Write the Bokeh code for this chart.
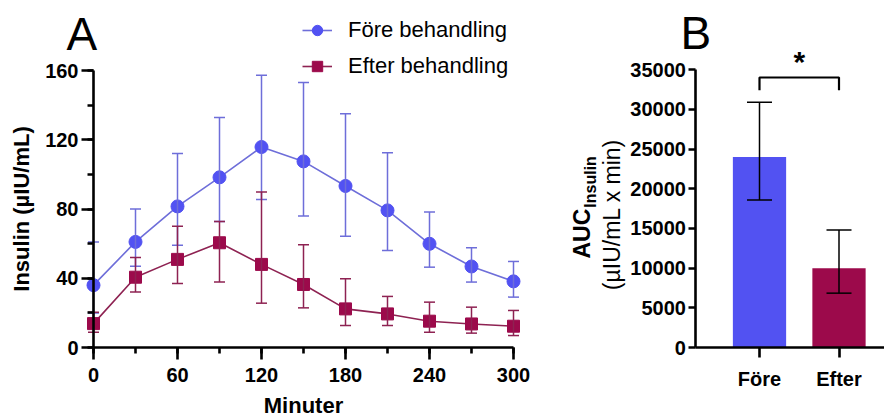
import math
from bokeh.plotting import figure
from bokeh.layouts import row
from bokeh.models import (Range1d, ColumnDataSource, Whisker, TeeHead, Label, Legend,
                          SingleIntervalTicker, FixedTicker, NumeralTickFormatter)
from bokeh.embed import file_html
from bokeh.resources import INLINE

# ---------------- data ----------------
minutes = [0, 30, 60, 90, 120, 150, 180, 210, 240, 270, 300]
fore_mean = [36, 61, 81.5, 98.3, 115.8, 107.5, 93.3, 79.2, 59.9, 46.8, 38.2]
fore_upper = [61, 80, 112, 132.8, 157.2, 153, 135, 112.5, 78.2, 57.6, 49.7]
fore_lower = [20, 47, 59, 72.8, 85.5, 75.9, 64.3, 56, 46.4, 37.8, 29.1]
efter_mean = [13.8, 40.6, 50.9, 60.5, 48, 36.4, 22.3, 19.4, 15.2, 13.6, 12.3]
efter_upper = [20.4, 52, 70, 72.8, 89.8, 59.3, 39.7, 29.5, 26.2, 23.3, 21.4]
efter_lower = [8.8, 32, 37, 37.8, 25.6, 22.9, 12.7, 12.7, 8.8, 8.3, 6.9]

auc_groups = ["Före", "Efter"]
auc_mean = [24000, 10000]
auc_upper = [30900, 14800]
auc_lower = [18600, 6850]
sig_y = 34030
sig_drop = 1600
sig_star_y = 36000

BLUE = "#5252F2"
BLUE_LINE = "#6E6ED9"
RED = "#9C0A4B"
RED_LINE = "#8E2252"
FONT = "Liberation Sans"

H = 419
ZERO_PX = 347  # canvas px row of the value-0 line

def style_axes(p):
    for ax in (p.xaxis[0], p.yaxis[0]):
        ax.axis_line_width = 2.6
        ax.axis_line_color = "black"
        ax.major_tick_line_width = 2.6
        ax.minor_tick_line_width = 2.6
        ax.major_tick_in = 0
        ax.minor_tick_in = 0
        ax.major_label_text_font = FONT
        ax.major_label_text_font_style = "bold"
        ax.major_label_text_font_size = "20px"
        ax.major_label_text_color = "black"
        ax.axis_label_text_font = FONT
        ax.axis_label_text_font_style = "bold"
        ax.axis_label_text_font_size = "22px"
        ax.axis_label_text_color = "black"
    p.xgrid.visible = False
    p.ygrid.visible = False
    p.outline_line_color = None

def scr_y(px):
    """canvas row -> screen-unit y measured from the frame bottom"""
    return H - px

# ---------------- panel A ----------------
WA = 552
ax0_px, ax_scale = 93.0, 1.4          # px of minute 0, px per minute
ay_scale = 277.0 / 160.0              # px per insulin unit
pA = figure(width=WA, height=H,
            x_range=Range1d(-ax0_px / ax_scale, (WA - ax0_px) / ax_scale),
            y_range=Range1d(-(H - ZERO_PX) / ay_scale, ZERO_PX / ay_scale),
            output_backend="svg", toolbar_location=None,
            min_border_left=0, min_border_right=0, min_border_top=0, min_border_bottom=0)
style_axes(pA)
pA.xaxis.ticker = SingleIntervalTicker(interval=60, num_minor_ticks=2)
pA.yaxis.ticker = SingleIntervalTicker(interval=40, num_minor_ticks=2)
pA.xaxis.bounds = (0, 300)
pA.yaxis.bounds = (0, 160)
pA.yaxis.fixed_location = 0
pA.xaxis.fixed_location = 0
pA.xaxis.major_tick_out = 12
pA.xaxis.minor_tick_out = 6
pA.yaxis.major_tick_out = 12
pA.yaxis.minor_tick_out = 6
pA.xaxis.major_label_standoff = 8
pA.yaxis.major_label_standoff = 3
pA.xaxis.axis_label = "Minuter"
pA.yaxis.axis_label = "Insulin (µIU/mL)"
pA.xaxis.axis_label_standoff = 8
pA.yaxis.axis_label_standoff = 8

srcF = ColumnDataSource(dict(x=minutes, y=fore_mean, lo=fore_lower, hi=fore_upper))
srcE = ColumnDataSource(dict(x=minutes, y=efter_mean, lo=efter_lower, hi=efter_upper))

for src, col in ((srcF, BLUE_LINE), (srcE, RED_LINE)):
    w = Whisker(source=src, base="x", lower="lo", upper="hi",
                line_color=col, line_width=1.5,
                upper_head=TeeHead(size=11, line_color=col, line_width=1.5),
                lower_head=TeeHead(size=11, line_color=col, line_width=1.5))
    w.level = "glyph"
    pA.add_layout(w)

lf = pA.line("x", "y", source=srcF, line_color=BLUE_LINE, line_width=1.6)
mf = pA.scatter("x", "y", source=srcF, marker="circle", size=13, fill_color=BLUE, line_color=BLUE)
le = pA.line("x", "y", source=srcE, line_color=RED_LINE, line_width=1.6)
me = pA.scatter("x", "y", source=srcE, marker="square", size=12, fill_color=RED, line_color=RED)

legend = Legend(items=[("Före behandling", [lf, mf]), ("Efter behandling", [le, me])],
                location=(302, scr_y(17) - 62), orientation="vertical",
                glyph_width=30, glyph_height=26, label_height=26, spacing=10,
                padding=0, margin=0, label_standoff=16,
                label_text_font=FONT, label_text_font_size="22px", label_text_color="black",
                border_line_color=None, background_fill_alpha=0)
pA.add_layout(legend)

pA.add_layout(Label(x=66, y=scr_y(33.5), x_units="screen", y_units="screen", text="A",
                    text_font=FONT, text_font_size="46px", text_color="black",
                    text_align="left", text_baseline="middle"))

# ---------------- panel B ----------------
WB = 884 - WA
bx1_px, bx_scale = 759.0 - WA, 79.5      # px (in panel B) of first bar centre, px per category
by_scale = 277.7 / 35000.0
pB = figure(width=WB, height=H,
            x_range=Range1d(1 - bx1_px / bx_scale, 1 + (WB - bx1_px) / bx_scale),
            y_range=Range1d(-(H - ZERO_PX) / by_scale, ZERO_PX / by_scale),
            output_backend="svg", toolbar_location=None,
            min_border_left=0, min_border_right=0, min_border_top=0, min_border_bottom=0)
style_axes(pB)
xpos = [i + 1 for i in range(len(auc_groups))]
pB.xaxis.ticker = FixedTicker(ticks=xpos)
pB.xaxis.major_label_overrides = {x: g for x, g in zip(xpos, auc_groups)}
pB.yaxis.ticker = SingleIntervalTicker(interval=5000, num_minor_ticks=0)
pB.yaxis.formatter = NumeralTickFormatter(format="0")
pB.yaxis.bounds = (0, 35000)
pB.yaxis.fixed_location = 0.2
pB.xaxis.fixed_location = 0
pB.xaxis.bounds = (0.2, 1 + (WB - bx1_px) / bx_scale)
pB.xaxis.major_tick_out = 10
pB.yaxis.major_tick_out = 7
pB.xaxis.minor_tick_out = 0
pB.yaxis.minor_tick_out = 0
pB.xaxis.major_label_standoff = 10
pB.yaxis.major_label_standoff = 3

srcB = ColumnDataSource(dict(x=xpos, top=auc_mean, lo=auc_lower, hi=auc_upper,
                             color=[BLUE, RED]))
pB.vbar(x="x", top="top", width=0.67, source=srcB, fill_color="color", line_color=None)
wb = Whisker(source=srcB, base="x", lower="lo", upper="hi", line_color="black", line_width=1.5,
             upper_head=TeeHead(size=25, line_color="black", line_width=1.5),
             lower_head=TeeHead(size=25, line_color="black", line_width=1.5))
wb.level = "overlay"
pB.add_layout(wb)

pB.line(x=[xpos[0], xpos[0], xpos[1], xpos[1]],
        y=[sig_y - sig_drop, sig_y, sig_y, sig_y - sig_drop],
        line_color="black", line_width=2.2)
pB.add_layout(Label(x=(xpos[0] + xpos[1]) / 2, y=sig_star_y, text="*",
                    text_font=FONT, text_font_style="bold", text_font_size="30px",
                    text_color="black", text_align="center", text_baseline="middle"))

pB.add_layout(Label(x=680 - WA, y=scr_y(32.5), x_units="screen", y_units="screen", text="B",
                    text_font=FONT, text_font_size="46px", text_color="black",
                    text_align="left", text_baseline="middle"))

# rotated y-axis title with subscript
auc_size = 23
sub_size = 16
auc_w = 2.166 * auc_size
auc_y0 = scr_y(258)
pB.add_layout(Label(x=581.5 - WA, y=auc_y0, x_units="screen", y_units="screen", text="AUC",
                    angle=math.pi / 2, text_font=FONT, text_font_style="bold",
                    text_font_size=f"{auc_size}px", text_color="black",
                    text_align="left", text_baseline="middle"))
pB.add_layout(Label(x=590 - WA, y=auc_y0 + auc_w + 1, x_units="screen", y_units="screen",
                    text="Insulin", angle=math.pi / 2, text_font=FONT, text_font_style="bold",
                    text_font_size=f"{sub_size}px", text_color="black",
                    text_align="left", text_baseline="middle"))
pB.add_layout(Label(x=611.5 - WA, y=scr_y(214), x_units="screen", y_units="screen",
                    text="(µIU/mL x min)", angle=math.pi / 2, text_font=FONT,
                    text_font_size="23px", text_color="black",
                    text_align="center", text_baseline="middle"))

layout = row(pA, pB)
open("out.html", "w").write(file_html(layout, INLINE))
